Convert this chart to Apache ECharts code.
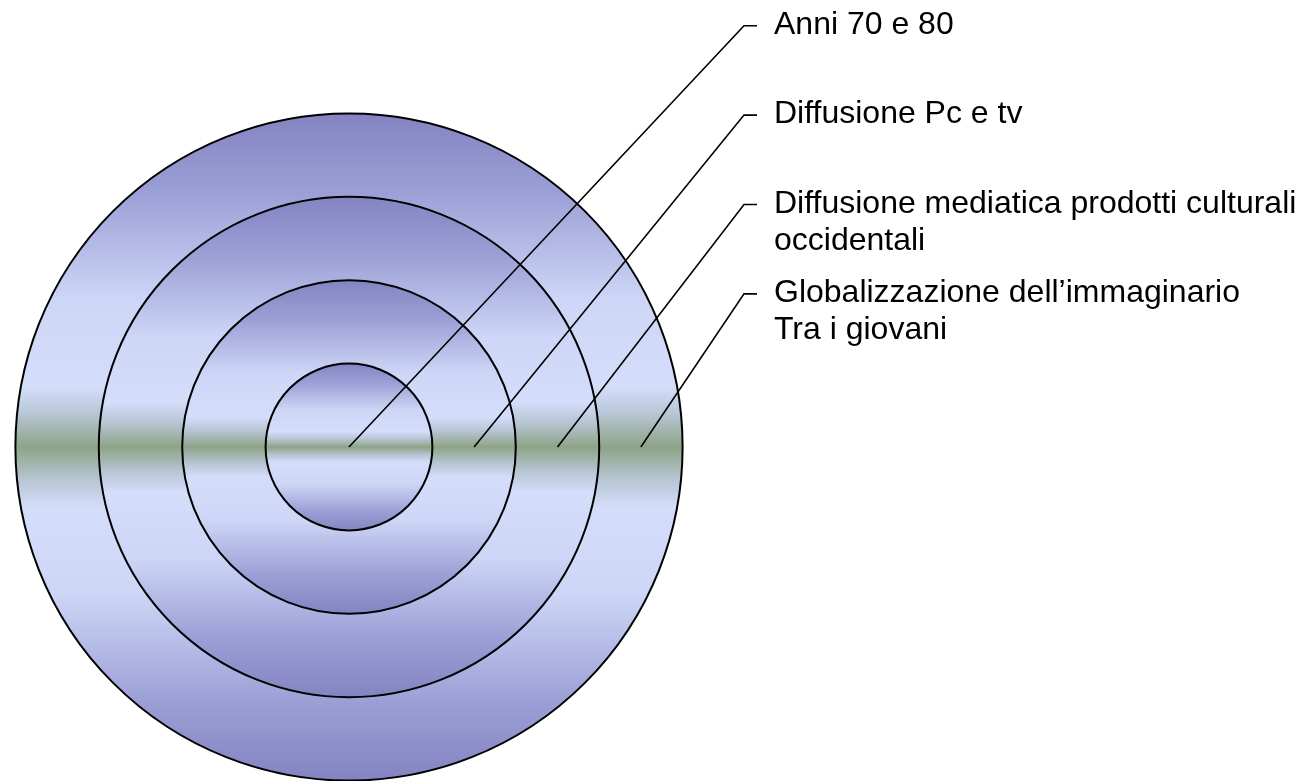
<!DOCTYPE html>
<html>
<head>
<meta charset="utf-8">
<script src="https://cdn.jsdelivr.net/npm/echarts@6/dist/echarts.min.js"></script>
<style>
html,body{margin:0;padding:0;background:#fff;}
#chart{width:1308px;height:781px;}
</style>
</head>
<body>
<div id="chart"></div>
<script>
// ---- data ----
const levelNames = [
  'Anni 70 e 80',
  'Diffusione Pc e tv',
  'Diffusione mediatica prodotti culturali\noccidentali',
  'Globalizzazione dell\u2019immaginario\nTra i giovani'
];
const ringOuterRadius = [1, 2, 3, 4];      // outer radius of each ring (ring units)
const leaderStart = [0, 1.5, 2.5, 3.5];    // where each leader line starts (ring units from centre)

// ---- layout / style ----
const UNIT = 83.4;          // px per ring unit
const CX = 349, CY = 447;   // centre in px
const R = 4 * UNIT;

const gradStops = [
  {offset: 0, color: '#8383c1'},
  {offset: 0.12, color: '#9c9fd6'},
  {offset: 0.28, color: '#cdd6f6'},
  {offset: 0.41, color: '#d4ddfa'},
  {offset: 0.45, color: '#b8c6d6'},
  {offset: 0.5, color: '#8da487'},
  {offset: 0.55, color: '#b8c6d6'},
  {offset: 0.59, color: '#d4ddfa'},
  {offset: 0.72, color: '#cdd6f6'},
  {offset: 0.88, color: '#9c9fd6'},
  {offset: 1, color: '#8383c1'}
];

const chart = echarts.init(document.getElementById('chart'), null, {renderer: 'canvas'});

const circleData = ringOuterRadius.map((r, i) => [r, i]).reverse();
const leaderData = leaderStart.map((x, i) => [x, 0, i]);

const option = {
  animation: false,
  grid: {left: CX - R, top: CY - R, width: 2 * R, height: 2 * R},
  xAxis: {type: 'value', min: -4, max: 4, show: false},
  yAxis: {type: 'value', min: -4, max: 4, show: false},
  series: [
    {
      type: 'custom',
      coordinateSystem: 'cartesian2d',
      z: 2,
      data: circleData,
      renderItem: function (params, api) {
        const r = api.value(0);
        const c = api.coord([0, 0]);
        const rp = api.size([r, r])[0];
        return {
          type: 'circle',
          shape: {cx: c[0], cy: c[1], r: rp},
          style: {
            fill: new echarts.graphic.LinearGradient(0, 0, 0, 1, gradStops),
            stroke: '#000',
            lineWidth: 2
          }
        };
      }
    },
    {
      type: 'custom',
      coordinateSystem: 'cartesian2d',
      z: 3,
      clip: false,
      data: leaderData,
      renderItem: function (params, api) {
        const i = api.value(2);
        const p = api.coord([api.value(0), api.value(1)]);
        const cornerX = CX + 395;
        const cornerY = 25.7 + i * 89.4;
        return {
          type: 'group',
          children: [
            {
              type: 'polyline',
              shape: {points: [[p[0], p[1]], [cornerX, cornerY], [cornerX + 13, cornerY]]},
              style: {stroke: '#000', lineWidth: 1.6, fill: null}
            },
            {
              type: 'text',
              style: {
                text: levelNames[i],
                x: cornerX + 30,
                y: cornerY - 19,
                font: '32px "Liberation Sans", Arial, sans-serif',
                fill: '#000',
                lineHeight: 37,
                textVerticalAlign: 'top',
                textAlign: 'left'
              }
            }
          ]
        };
      }
    }
  ]
};
chart.setOption(option);
</script>
</body>
</html>
